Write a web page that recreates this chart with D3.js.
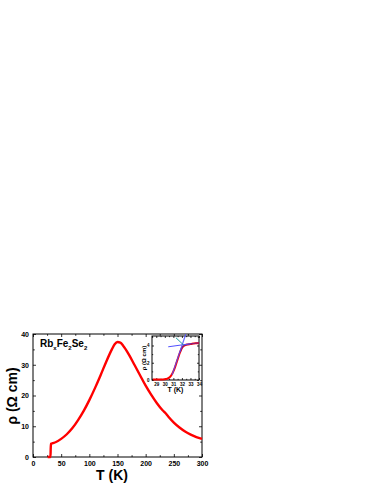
<!DOCTYPE html>
<html><head><meta charset="utf-8">
<script src="https://cdn.jsdelivr.net/npm/d3@7"></script>
<style>body{margin:0;background:#fff}svg{display:block}text{font-family:"Liberation Sans",Arial,sans-serif;font-weight:bold}</style>
</head><body>
<script>
// Main curve
const mainT = [26, 30, 31, 31.5, 32, 35, 40, 50, 60, 70, 80, 90, 100, 110, 120, 130, 140, 145, 150, 155, 160, 170, 180, 190, 200, 210, 220, 230, 235, 240, 250, 260, 270, 280, 290, 300];
const mainR = [0, 0, 0, 3, 4.3, 4.5, 4.8, 5.9, 7.4, 9.4, 12, 15, 18.5, 22.4, 26.6, 31, 35, 36.7, 37.4, 37.2, 36.2, 33.4, 30, 26.6, 23.2, 20.2, 17.5, 15.2, 14.3, 13.2, 11.2, 9.6, 8.3, 7.3, 6.5, 5.9];
const mainXTicks = [0, 50, 100, 150, 200, 250, 300];
const mainYTicks = [0, 10, 20, 30, 40];
// Inset curve
const insetT = [28.6, 29, 29.5, 30, 30.3, 30.6, 30.8, 31, 31.2, 31.4, 31.6, 31.8, 32, 32.2, 32.4, 32.7, 33, 33.3, 33.6, 34];
const insetR = [0.05, 0.05, 0.05, 0.08, 0.15, 0.35, 0.6, 1.0, 1.5, 2.1, 2.7, 3.25, 3.7, 3.95, 4.05, 4.12, 4.18, 4.22, 4.26, 4.3];
const insetXTicks = [29, 30, 31, 32, 33, 34];
const insetYTicks = [0, 2, 4];
// Guide lines in inset
const steepT = [30.85, 32.45], steepR = [0.6, 5.3];
const flatT = [30.4, 33.0], flatR = [3.85, 4.2];
const tealT = [31.3, 32.2], tealR = [4.9, 4.05];

const W = 374, H = 484;
const svg = d3.select("body").append("svg").attr("width", W).attr("height", H);

function frameAxes(g, x, y, xt, yt, xMinor, yMinor, major, minor, fs, pad) {
  const [x0, x1] = x.range(), [y0, y1] = y.range();
  g.append("rect").attr("x", x0).attr("y", y1).attr("width", x1 - x0).attr("height", y0 - y1)
    .attr("fill", "none").attr("stroke", "#000").attr("stroke-width", 1);
  const ax = d3.axisBottom(x).tickValues(xt).tickSize(-major).tickPadding(pad).tickFormat(d3.format("d"));
  const gx = g.append("g").attr("transform", `translate(0,${y0})`).call(ax);
  const ay = d3.axisLeft(y).tickValues(yt).tickSize(-major).tickPadding(pad).tickFormat(d3.format("d"));
  const gy = g.append("g").attr("transform", `translate(${x0},0)`).call(ay);
  g.append("g").attr("transform", `translate(0,${y1})`).call(d3.axisTop(x).tickValues(xt).tickSize(-major).tickFormat(""));
  g.append("g").attr("transform", `translate(${x1},0)`).call(d3.axisRight(y).tickValues(yt).tickSize(-major).tickFormat(""));
  [[d3.axisBottom(x), y0], [d3.axisTop(x), y1]].forEach(([a, t]) =>
    g.append("g").attr("transform", `translate(0,${t})`).call(a.tickValues(xMinor).tickSize(-minor).tickFormat("")));
  [[d3.axisLeft(y), x0], [d3.axisRight(y), x1]].forEach(([a, t]) =>
    g.append("g").attr("transform", `translate(${t},0)`).call(a.tickValues(yMinor).tickSize(-minor).tickFormat("")));
  g.selectAll(".domain").remove();
  g.selectAll("text").style("font-size", fs + "px").style("font-family", "Liberation Sans, Arial, sans-serif").style("font-weight", "bold");
  g.selectAll(".tick line").attr("stroke", "#000").attr("stroke-width", 0.8);
}

// Main chart
const x = d3.scaleLinear([0, 300], [33, 202]);
const y = d3.scaleLinear([0, 40], [457, 334]);
const gm = svg.append("g");
frameAxes(gm, x, y, mainXTicks, mainYTicks, d3.range(25, 300, 50), d3.range(5, 40, 10), 3, 1.8, 7, 4);

const mainData = mainT.map((t, i) => [t, mainR[i]]);
gm.append("path").datum(mainData)
  .attr("d", d3.line().x(d => x(d[0])).y(d => y(d[1])).curve(d3.curveMonotoneX))
  .attr("fill", "none").attr("stroke", "#ff0000").attr("stroke-width", 2.4).attr("stroke-linejoin", "round");

// Formula label
const lab = gm.append("text").attr("x", 40).attr("y", 347).style("font-size", "10px");
lab.append("tspan").text("Rb");
lab.append("tspan").attr("dy", 3).style("font-size", "6px").text("x");
lab.append("tspan").attr("dy", -3).text("Fe");
lab.append("tspan").attr("dy", 3).style("font-size", "6px").text("2");
lab.append("tspan").attr("dy", -3).text("Se");
lab.append("tspan").attr("dy", 3).style("font-size", "6px").text("2");

// Axis titles
svg.append("text").attr("x", 112).attr("y", 480).attr("text-anchor", "middle").style("font-size", "14px").text("T (K)");
svg.append("text").attr("transform", "translate(17,396) rotate(-90)").attr("text-anchor", "middle").style("font-size", "14px").text("ρ (Ω cm)");

// Inset
const xi = d3.scaleLinear([28.5, 34], [152, 199]);
const yi = d3.scaleLinear([0, 5.1], [380, 336]);
const gi = svg.append("g");
gi.append("rect").attr("x", 152).attr("y", 336).attr("width", 47).attr("height", 44).attr("fill", "#fff");
frameAxes(gi, xi, yi, insetXTicks, insetYTicks, d3.range(28.5, 34, 0.5).filter(v => v % 1 !== 0), [1, 3, 5], 2, 1.2, 4.5, 2.5);

const line = d3.line().x(d => xi(d[0])).y(d => yi(d[1]));
const insetData = insetT.map((t, i) => [t, insetR[i]]);
gi.append("path").datum(insetData).attr("d", line.curve(d3.curveMonotoneX))
  .attr("fill", "none").attr("stroke", "#ff0000").attr("stroke-width", 2);
gi.append("path").datum(insetData.filter(d => d[0] >= 31.8)).attr("d", line.curve(d3.curveMonotoneX))
  .attr("fill", "none").attr("stroke", "#8a1a7a").attr("stroke-width", 1.2);
const lin = d3.line().x(d => xi(d[0])).y(d => yi(d[1]));
gi.append("path").datum(steepT.map((t, i) => [t, steepR[i]])).attr("d", lin)
  .attr("stroke", "#5050ff").attr("stroke-width", 1.2).attr("fill", "none").attr("opacity", 0.85);
gi.append("path").datum(flatT.map((t, i) => [t, flatR[i]])).attr("d", lin)
  .attr("stroke", "#5050ff").attr("stroke-width", 1).attr("fill", "none");
gi.append("path").datum(tealT.map((t, i) => [t, tealR[i]])).attr("d", lin)
  .attr("stroke", "#20a0a0").attr("stroke-width", 1).attr("fill", "none");

gi.append("text").attr("x", 175.5).attr("y", 392).attr("text-anchor", "middle").style("font-size", "7px").text("T (K)");
gi.append("text").attr("transform", "translate(146,358) rotate(-90)").attr("text-anchor", "middle").style("font-size", "6px").text("ρ (Ω cm)");
</script>
</body></html>
